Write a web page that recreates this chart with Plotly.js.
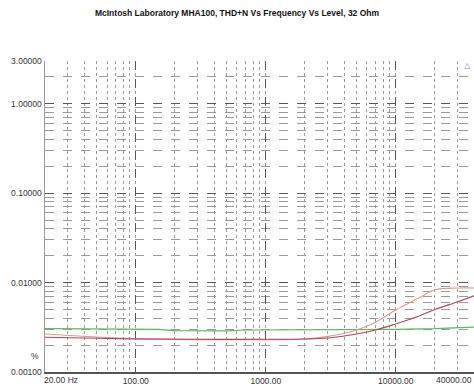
<!DOCTYPE html>
<html>
<head>
<meta charset="utf-8">
<script src="https://cdn.plot.ly/plotly-3.0.1.min.js"></script>
<style>html,body{margin:0;padding:0;background:#fff;}#chart{width:474px;height:387px;}</style>
</head>
<body>
<div id="chart"></div>
<script>
const freqGreen = [20, 50, 100, 150, 200, 500, 700, 1000, 2000, 3000, 5000, 10000, 20000, 30000, 40000];
const thdGreen  = [0.00305, 0.00305, 0.00303, 0.00300, 0.00290, 0.00288, 0.00295, 0.00295, 0.00295, 0.00296, 0.00298, 0.00300, 0.00305, 0.00310, 0.00318];

const freqSalmon = [20, 50, 100, 300, 1000, 2000, 3000, 5000, 7000, 10000, 15000, 20000, 30000, 40000];
const thdSalmon  = [0.00266, 0.00246, 0.00236, 0.00230, 0.00230, 0.00234, 0.00250, 0.00295, 0.00360, 0.00494, 0.00670, 0.00830, 0.00870, 0.00870];

const freqMaroon = [20, 50, 100, 300, 1000, 2000, 3000, 5000, 7000, 10000, 15000, 20000, 30000, 40000];
const thdMaroon  = [0.00245, 0.00238, 0.00234, 0.00232, 0.00232, 0.00234, 0.00240, 0.00266, 0.00295, 0.00345, 0.00420, 0.00500, 0.00610, 0.00710];

const xTickVals = [20, 100, 1000, 10000];
const xTickText = ['', '100.00', '1000.00', '10000.00'];
const yTickVals = [0.001, 0.01, 0.1, 1, 3];
const yTickText = ['0.00100', '0.01000', '0.10000', '1.00000', '3.00000'];

const F = 'Liberation Sans, Arial';
const traces = [
  {x: freqGreen, y: thdGreen, mode: 'lines', line: {color: '#5cb85c', width: 1.2}, hoverinfo: 'skip'},
  {x: freqSalmon, y: thdSalmon, mode: 'lines', line: {color: '#e39a8c', width: 1.1, shape: 'spline'}, hoverinfo: 'skip'},
  {x: freqMaroon, y: thdMaroon, mode: 'lines', line: {color: '#a5485a', width: 1.1, shape: 'spline'}, hoverinfo: 'skip'}
];

const layout = {
  width: 474, height: 387,
  margin: {l: 45, r: 0, t: 61, b: 15},
  paper_bgcolor: '#fff', plot_bgcolor: '#fff',
  showlegend: false,
  title: {text: '<b>McIntosh Laboratory MHA100, THD+N Vs Frequency Vs Level, 32 Ohm</b>',
          font: {family: F, size: 8.5, color: '#111'}, x: 0.5, xanchor: 'center', y: 0.966, yanchor: 'middle'},
  xaxis: {
    type: 'log', range: [Math.log10(20), Math.log10(40000)],
    tickvals: xTickVals, ticktext: xTickText, ticks: '',
    tickfont: {family: F, size: 8.5, color: '#333'},
    showgrid: true, gridcolor: '#555', griddash: 'dash', gridwidth: 1,
    minor: {dtick: 'D1', showgrid: true, gridcolor: '#999', griddash: 'dot', gridwidth: 1},
    showline: true, linecolor: '#555', linewidth: 2, zeroline: false, mirror: false
  },
  yaxis: {
    type: 'log', range: [-3, Math.log10(3)],
    tickvals: yTickVals, ticktext: yTickText, ticks: '',
    tickfont: {family: F, size: 8.5, color: '#333'},
    showgrid: true, gridcolor: '#555', griddash: 'dash', gridwidth: 1,
    minor: {dtick: 'D1', showgrid: true, gridcolor: '#999', griddash: 'dash', gridwidth: 1},
    showline: true, linecolor: '#999', linewidth: 1.5, zeroline: false
  },
  annotations: [
    {text: '20.00 Hz', xref: 'paper', yref: 'paper', x: 0, y: 0, xanchor: 'left', yanchor: 'top', xshift: -3, yshift: -1, showarrow: false,
     font: {family: F, size: 8.5, color: '#333'}},
    {text: '40000.00', xref: 'paper', yref: 'paper', x: 1, y: 0, xanchor: 'right', yanchor: 'top', yshift: -1, showarrow: false,
     font: {family: F, size: 8.5, color: '#333'}},
    {text: '%', xref: 'paper', yref: 'paper', x: 0, y: 0.05, xanchor: 'right', yanchor: 'middle', xshift: -4, showarrow: false,
     font: {family: F, size: 8.5, color: '#333'}},
    {text: '△', xref: 'paper', yref: 'paper', x: 0.985, y: 0.985, xanchor: 'center', yanchor: 'middle', showarrow: false,
     font: {family: 'DejaVu Sans', size: 8, color: '#a080c0'}}
  ]
};

Plotly.newPlot('chart', traces, layout, {staticPlot: true, displayModeBar: false});
</script>
</body>
</html>
